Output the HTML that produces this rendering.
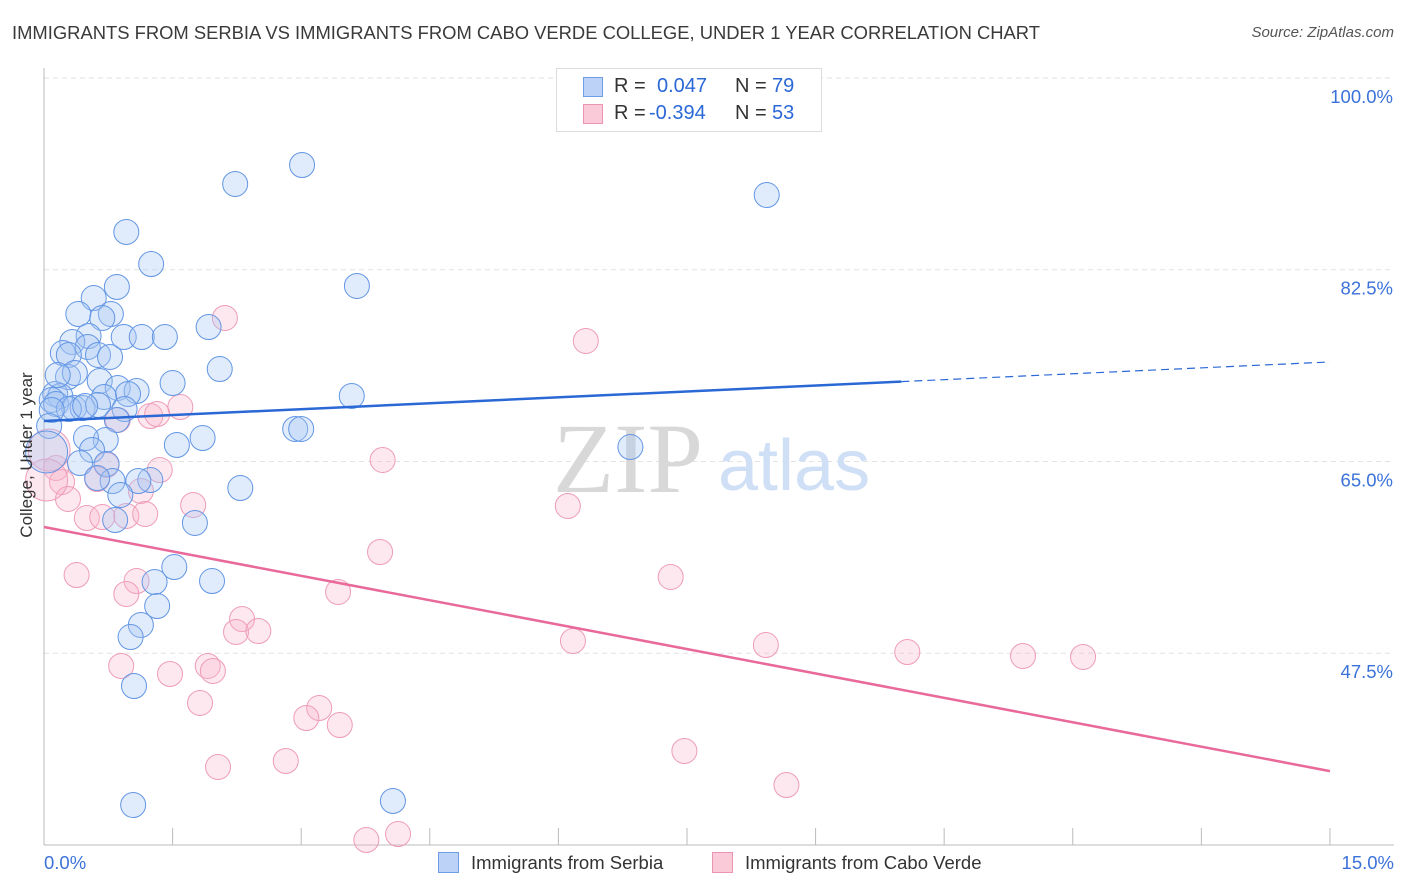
<!DOCTYPE html>
<html><head><meta charset="utf-8"><style>
body{margin:0;background:#fff;font-family:"Liberation Sans",sans-serif;}
#wrap{position:relative;width:1406px;height:892px;overflow:hidden;}
.t{position:absolute;white-space:nowrap;}
</style></head><body>
<div id="wrap">
<div class="t" style="left:12px;top:22px;font-size:18.4px;color:#3a3a3a;">IMMIGRANTS FROM SERBIA VS IMMIGRANTS FROM CABO VERDE COLLEGE, UNDER 1 YEAR CORRELATION CHART</div>
<div class="t" style="right:12px;top:24px;font-size:15px;color:#555;font-style:italic;">Source: ZipAtlas.com</div>
<svg id="svg" width="1406" height="892" style="position:absolute;left:0;top:0"></svg>
</div>
<script>
const serbiaX=[3.01,2.23,8.43,0.96,1.25,0.85,3.65,0.58,0.40,0.78,0.68,1.92,0.52,0.93,1.14,1.41,0.33,0.51,0.22,0.29,0.63,0.77,2.05,0.28,0.36,0.65,1.50,0.86,1.08,0.98,0.70,3.59,0.13,0.19,0.09,0.14,0.35,0.45,0.29,0.63,0.94,0.09,0.48,0.85,0.06,0.72,0.49,1.85,1.55,2.93,3.00,6.84,0.56,0.03,0.42,0.73,1.24,1.10,0.80,0.62,2.29,0.89,0.83,1.76,1.52,1.29,1.96,1.32,1.13,1.01,1.05,1.04,4.07,0.16];
const serbiaY=[92.06,90.33,89.32,85.95,83.02,80.93,81.02,79.92,78.46,78.46,78.1,77.27,76.45,76.36,76.36,76.36,75.91,75.45,74.9,74.72,74.72,74.54,73.44,72.71,73.08,72.35,72.16,71.71,71.43,71.16,70.89,70.98,71.16,70.98,70.61,70.25,69.88,69.88,69.79,70.16,69.79,69.7,70.06,68.79,68.24,66.96,67.14,67.14,66.51,67.97,67.97,66.32,66.05,65.87,64.86,64.77,63.31,63.22,63.22,63.49,62.58,61.94,59.66,59.39,55.37,54.0,54.09,51.81,50.08,48.98,44.51,33.65,34.02,72.89];
const serbiaBig=[53];
const caboX=[2.11,6.32,1.59,1.24,1.32,0.86,3.95,1.35,0.14,0.73,0.06,0.21,0.62,1.13,0.28,1.74,0.50,0.96,1.18,0.68,6.11,3.92,0.38,7.31,1.08,0.96,3.43,2.31,2.24,2.50,6.17,8.42,10.07,11.42,12.12,0.90,1.91,1.97,1.47,1.82,3.21,3.06,3.45,7.47,2.03,2.82,8.66,3.76,4.13,0.03];
const caboY=[78.1,76.0,69.97,69.15,69.33,68.79,65.14,64.22,64.41,64.68,66.05,63.13,63.4,62.31,61.58,61.03,59.84,60.03,60.21,59.93,60.94,56.74,54.64,54.46,54.09,52.91,53.09,50.62,49.44,49.53,48.62,48.25,47.61,47.25,47.16,46.34,46.34,45.88,45.61,42.96,42.5,41.59,40.95,38.58,37.12,37.67,35.47,30.46,31.0,63.31];
const caboBig=[10,49];
const yTicks=[100,82.5,65,47.5];
const yTickLabels=["100.0%","82.5%","65.0%","47.5%"];
const serbiaTrend=[68.70,0.359];
const caboTrend=[59.02,-1.485];

const NS="http://www.w3.org/2000/svg";
const svg=document.getElementById('svg');
const X=v=>44+v*85.73;
const Y=v=>78+(100-v)*10.957;
function mk(tag,attrs,parent){const e=document.createElementNS(NS,tag);for(const k in attrs)e.setAttribute(k,attrs[k]);(parent||svg).appendChild(e);return e;}

yTicks.forEach((t,i)=>{
  const g=mk('line',{x1:44,x2:1394,y1:Y(t),y2:Y(t),stroke:'#e2e2e2','stroke-dasharray':'5,4','stroke-width':1});
  
  
  const tx=mk('text',{x:1393,y:Y(t)+25,'text-anchor':'end','font-size':18.5,fill:'#3b72d9','font-family':'Liberation Sans'});
  tx.textContent=yTickLabels[i];
  
  
});
const ax=mk('line',{x1:44,x2:44,y1:68,y2:845,stroke:'#bbb'});


const bx=mk('line',{x1:44,x2:1394,y1:845,y2:845,stroke:'#bbb'});


for(let i=0;i<=10;i++){
  const tk=mk('line',{x1:X(i*1.5),x2:X(i*1.5),y1:828,y2:845,stroke:'#bbb'});
  
  
}
const w1=mk('text',{x:553,y:492,'font-size':100,fill:'#d8d8d8','font-family':'Liberation Serif'});
w1.textContent='ZIP';


const w2=mk('text',{x:718,y:490,'font-size':72,fill:'#cfdff5','font-family':'Liberation Sans'});
w2.textContent='atlas';



function dots(xs,ys,big,fill,stroke,name){
  xs.forEach((x,i)=>{
    const r=big.includes(i)?21:12.5;
    const c=mk('circle',{cx:X(x),cy:Y(ys[i]),r:r,fill:fill,stroke:stroke,'stroke-width':1});
    
    
  });
}
dots(caboX,caboY,caboBig,'rgba(248,180,202,0.3)','#ee9cb8','point-cabo-verde');
dots(serbiaX,serbiaY,serbiaBig,'rgba(165,198,244,0.35)','#6396e4','point-serbia');

const l1=mk('line',{x1:X(0),y1:Y(serbiaTrend[0]),x2:X(10),y2:Y(serbiaTrend[0]+serbiaTrend[1]*10),stroke:'#2a68d6','stroke-width':2.5});


const l1d=mk('line',{x1:X(10),y1:Y(serbiaTrend[0]+serbiaTrend[1]*10),x2:X(15),y2:Y(serbiaTrend[0]+serbiaTrend[1]*15),stroke:'#2a68d6','stroke-width':1.2,'stroke-dasharray':'8,5'});


const l2=mk('line',{x1:X(0),y1:Y(caboTrend[0]),x2:X(15),y2:Y(caboTrend[0]+caboTrend[1]*15),stroke:'#e8699a','stroke-width':2.5});


</script>
<div class="t" style="left:27px;top:455px;font-size:17px;color:#333;transform:translate(-50%,-50%) rotate(-90deg);">College, Under 1 year</div>
<div class="t" style="left:44px;top:852px;font-size:18.5px;color:#3b72d9;">0.0%</div>
<div class="t" style="right:12px;top:852px;font-size:18.5px;color:#3b72d9;">15.0%</div>
<div style="position:absolute;left:556px;top:68px;width:264px;height:62px;border:1px solid #ddd;background:#fff;font-size:20px;">
  <div style="position:absolute;left:26px;top:8px;width:18px;height:18px;background:#bcd3f7;border:1px solid #6f9ce6;"></div>
  <div class="t" style="left:57px;top:6px;color:#333;">R =</div>
  <div class="t" style="left:100px;top:6px;color:#2a68d6;">0.047</div>
  <div class="t" style="left:178px;top:6px;color:#333;">N =</div>
  <div class="t" style="left:215px;top:6px;color:#2a68d6;">79</div>
  <div style="position:absolute;left:26px;top:35px;width:18px;height:18px;background:#fbcad9;border:1px solid #ec94b1;"></div>
  <div class="t" style="left:57px;top:33px;color:#333;">R =</div>
  <div class="t" style="left:92px;top:33px;color:#2a68d6;">-0.394</div>
  <div class="t" style="left:178px;top:33px;color:#333;">N =</div>
  <div class="t" style="left:215px;top:33px;color:#2a68d6;">53</div>
</div>
<div style="position:absolute;left:438px;top:852px;font-size:18.5px;color:#333;">
  <div style="position:absolute;left:0;top:0;white-space:nowrap;"><span style="display:inline-block;width:19px;height:19px;background:#bcd3f7;border:1px solid #6f9ce6;vertical-align:-4px;margin-right:12px;"></span>Immigrants from Serbia</div>
  <div style="position:absolute;left:274px;top:0;white-space:nowrap;"><span style="display:inline-block;width:19px;height:19px;background:#fbcad9;border:1px solid #ec94b1;vertical-align:-4px;margin-right:12px;"></span>Immigrants from Cabo Verde</div>
</div>
</body></html>
